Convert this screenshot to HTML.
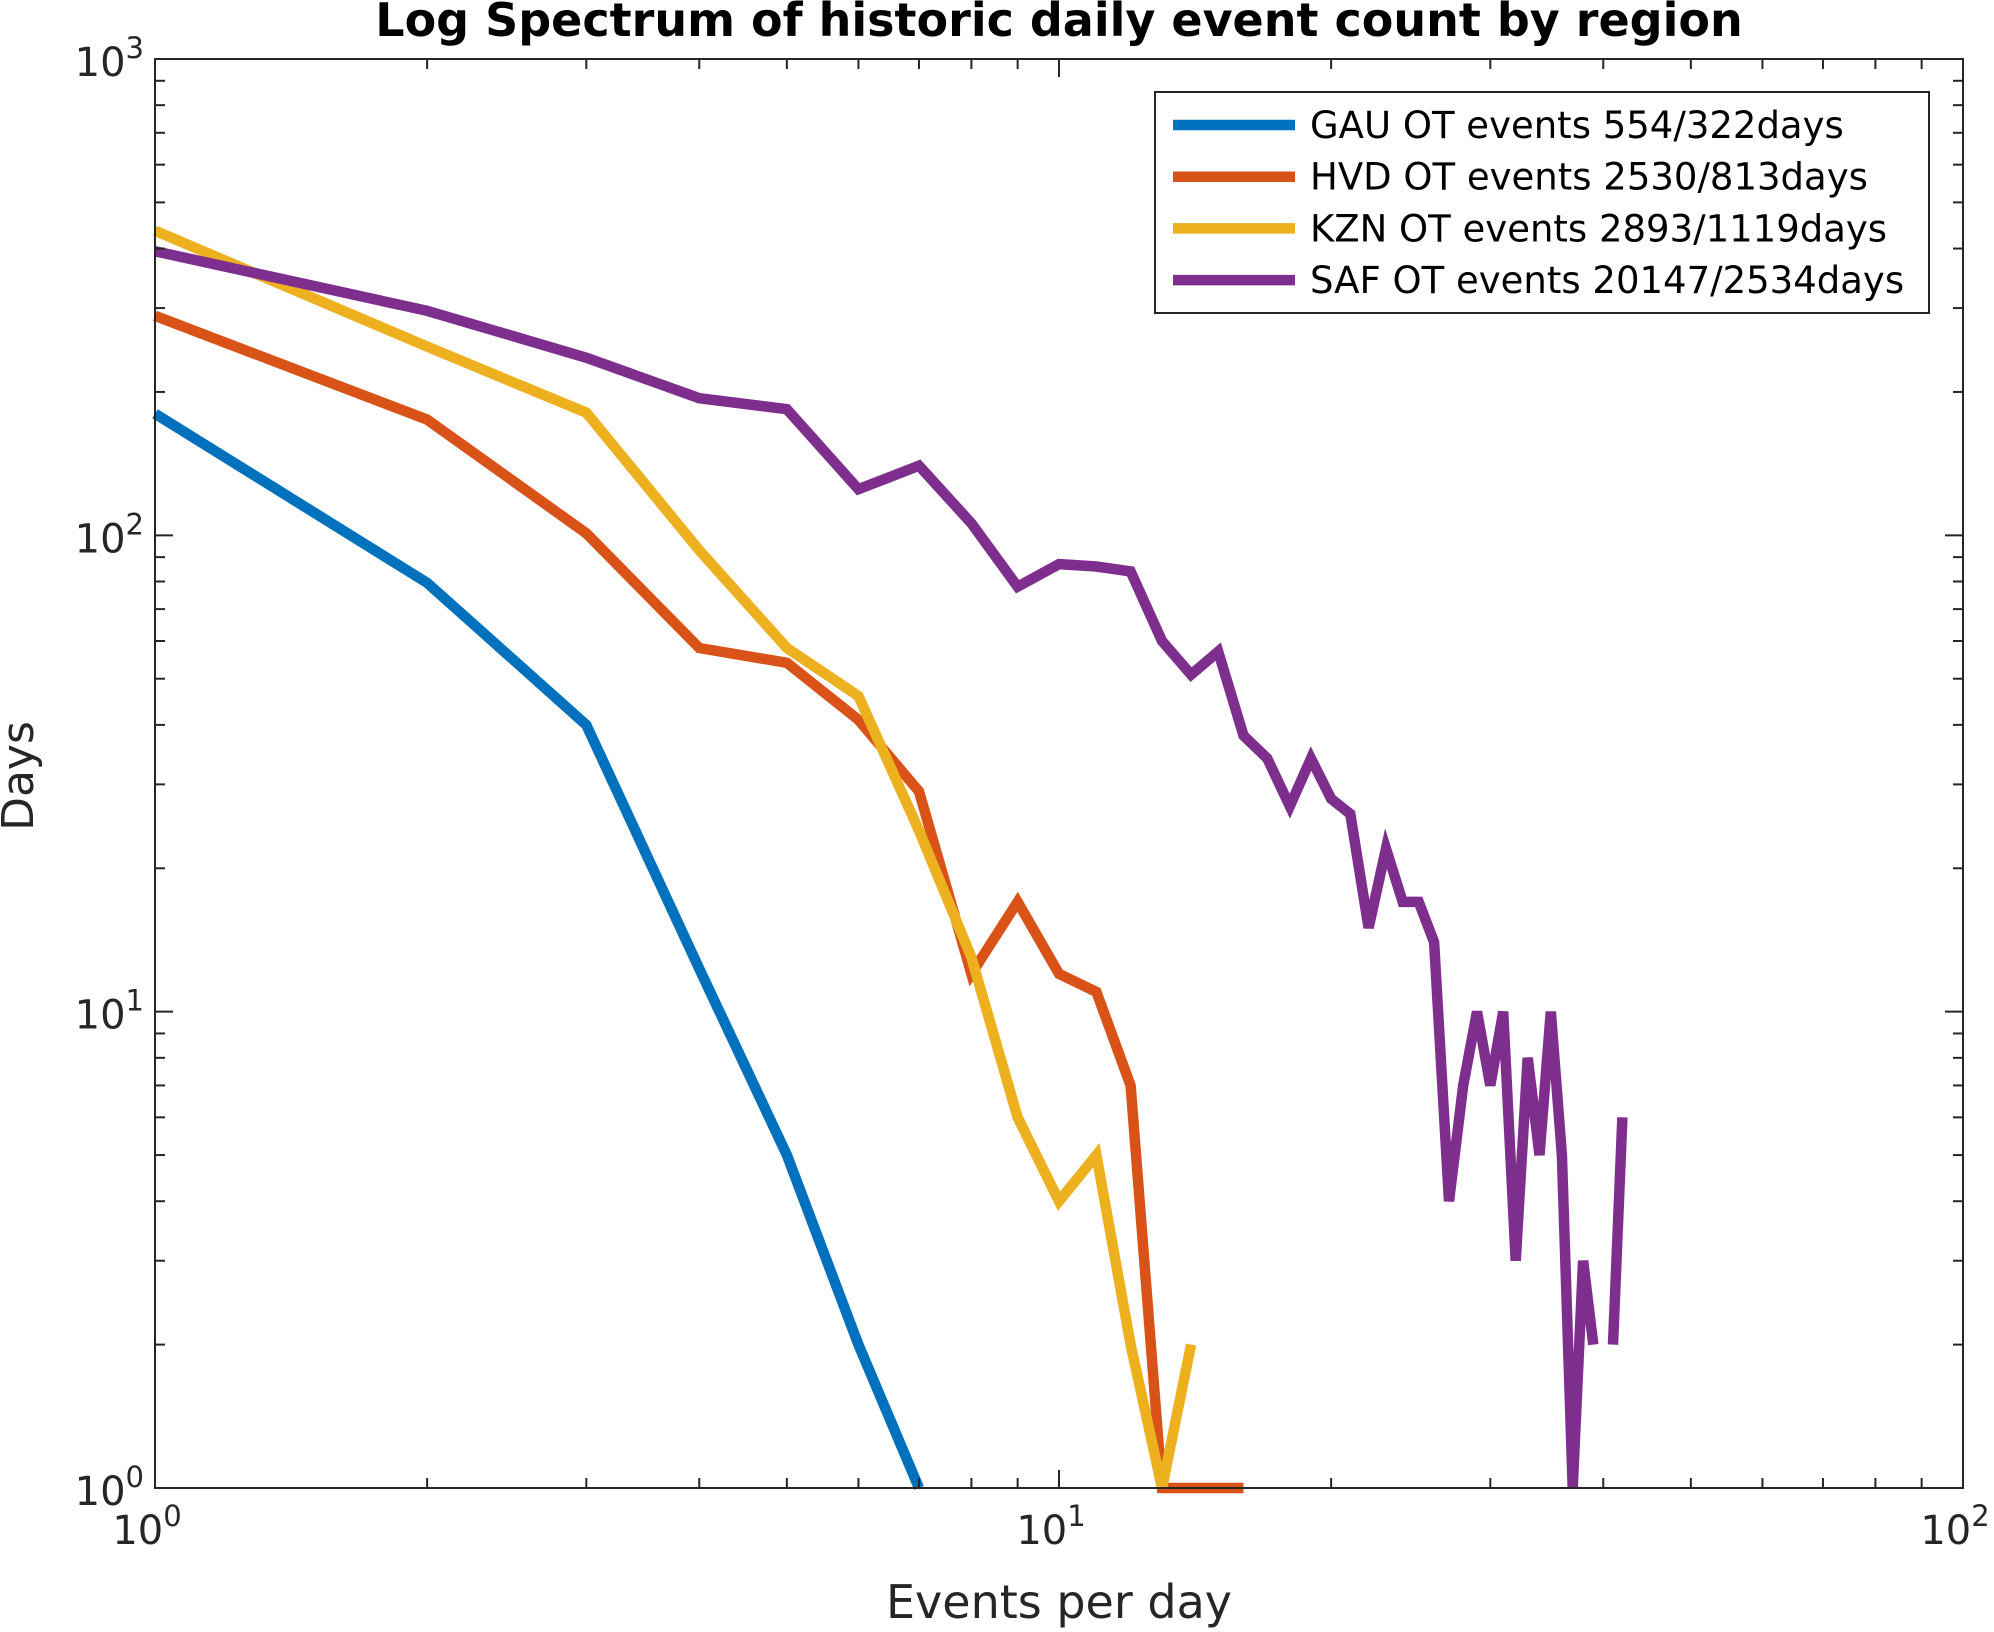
<!DOCTYPE html>
<html><head><meta charset="utf-8"><style>
html,body{margin:0;padding:0;background:#fff;}
svg{display:block;font-family:"DejaVu Sans","Liberation Sans",sans-serif;}
</style></head><body>
<svg id="chart" width="1994" height="1632" viewBox="0 0 1994 1632" xmlns="http://www.w3.org/2000/svg">
<rect x="0" y="0" width="1994" height="1632" fill="#fff"/>
<text x="1059" y="36" text-anchor="middle" font-size="46" font-weight="bold" fill="#000">Log Spectrum of historic daily event count by region</text>
<g id="grid"></g>
<g id="series"></g>
<rect x="155" y="59" width="1808" height="1429" fill="none" stroke="#262626" stroke-width="2"/>
<g id="ticks"></g>
<text x="1059" y="1618" text-anchor="middle" font-size="46" fill="#262626">Events per day</text>
<text transform="translate(33,776) rotate(-90)" text-anchor="middle" font-size="44" fill="#262626">Days</text>
<g id="legend"></g>
</svg>
<script>
const seriesNames = ["GAU OT events 554/322days","HVD OT events 2530/813days","KZN OT events 2893/1119days","SAF OT events 20147/2534days"];
const seriesColors = ["#0072BD","#D95319","#EDB120","#7E2F8E"];
const gauValues = [180,79.5,40,12.3,5,2,1];
const hvdValues = [289,175,101,58,54,41,29,12,17,12,11,7,1,1,1,1];
const kznValues = [436,249,181,93,58,46,24,13,6,4,5,2,1,2];
const safValues = [395,296,236,194,184,125,140,106,78,87,86,84,60,51,57,38,34,27,34,28,26,15,22,17,17,14,4,7,10,7,10,3,8,5,10,5,1,3,2,null,2,6];
const xTickExps = [0,1,2];
const yTickExps = [0,1,2,3];

const X0=155,X1=1963,Y0=59,Y1=1488;
function xs(v){return X0+(Math.log10(v)-0)/2*(X1-X0);}
function ys(v){return Y1-(Math.log10(v)-0)/3*(Y1-Y0);}
const NS="http://www.w3.org/2000/svg";
function mk(tag,attrs,parent){const e=document.createElementNS(NS,tag);for(const k in attrs)e.setAttribute(k,attrs[k]);parent.appendChild(e);return e;}

const ticks=document.getElementById('ticks');
for(let d=0;d<2;d++){for(let m=1;m<=9;m++){const v=Math.pow(10,d)*m;const x=xs(v);const L=m===1?18:10;
 if(m===1&&d===0)continue;
 const t1=mk('line',{x1:x,y1:Y1,x2:x,y2:Y1-L,stroke:'#262626','stroke-width':2},ticks);
 
 
 const t2=mk('line',{x1:x,y1:Y0,x2:x,y2:Y0+L,stroke:'#262626','stroke-width':2},ticks);
 
 }}
for(let d=0;d<3;d++){for(let m=1;m<=9;m++){const v=Math.pow(10,d)*m;const y=ys(v);const L=m===1?18:10;
 if(m===1&&d===0)continue;
 const t1=mk('line',{x1:X0,y1:y,x2:X0+L,y2:y,stroke:'#262626','stroke-width':2},ticks);
 
 
 const t2=mk('line',{x1:X1,y1:y,x2:X1-L,y2:y,stroke:'#262626','stroke-width':2},ticks);
 
 }}
xTickExps.forEach(e=>{const x=xs(Math.pow(10,e));
 const t=mk('text',{x:x-8,y:1544,'text-anchor':'middle','font-size':40,fill:'#262626'},ticks);
 
 
 t.innerHTML='10<tspan dy="-18" font-size="29">'+e+'</tspan>';});
yTickExps.forEach(e=>{const y=ys(Math.pow(10,e));
 const t=mk('text',{x:144,y:y+17,'text-anchor':'end','font-size':40,fill:'#262626'},ticks);
 
 
 t.innerHTML='10<tspan dy="-18" font-size="29">'+e+'</tspan>';});

const allSeries=[gauValues,hvdValues,kznValues,safValues];
const sg=document.getElementById('series');
allSeries.forEach((vals,i)=>{let d='';let pen=false;
 vals.forEach((v,j)=>{if(v===null||v<=0){pen=false;return;}
  d+=(pen?'L':'M')+xs(j+1).toFixed(1)+' '+ys(v).toFixed(1)+' ';pen=true;});
 const p=mk('path',{d:d,fill:'none',stroke:seriesColors[i],'stroke-width':10.5,'stroke-linejoin':'miter'},sg);
 
 });

const lg=document.getElementById('legend');
const box=mk('rect',{x:1155,y:92,width:774,height:221,fill:'#fff',stroke:'#262626','stroke-width':2},lg);


seriesNames.forEach((n,i)=>{const y=125+i*51.7;
 const l=mk('line',{x1:1173,y1:y,x2:1295,y2:y,stroke:seriesColors[i],'stroke-width':10.5},lg);
 
 
 const t=mk('text',{x:1310,y:y+13,'font-size':37,fill:'#000'},lg);
 
 
 t.textContent=n;});
</script>
</body></html>
